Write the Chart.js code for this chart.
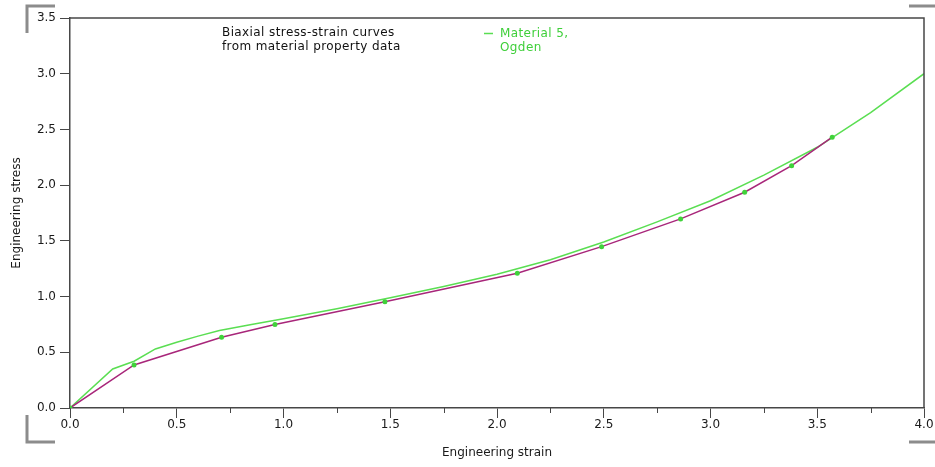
<!DOCTYPE html>
<html>
<head>
<meta charset="utf-8">
<title>Biaxial stress-strain curves</title>
<script src="https://cdn.jsdelivr.net/npm/chart.js@4/dist/chart.umd.min.js"></script>
<style>
  html, body { margin: 0; padding: 0; background: #fff; }
  #wrap { width: 935px; height: 467px; position: relative; }
</style>
</head>
<body>
<div id="wrap"><canvas id="stressChart" width="935" height="467"></canvas></div>
<script>
// measured material property data (biaxial test)
const testStrain = [0, 0.30, 0.71, 0.96, 1.475, 2.095, 2.49, 2.86, 3.16, 3.38, 3.57];
const testStress = [0, 0.386, 0.635, 0.75, 0.954, 1.209, 1.448, 1.697, 1.936, 2.175, 2.43];

// Ogden fit for material 5
const ogdenStrain = [0, 0.2, 0.3, 0.4, 0.5, 0.6, 0.7, 0.85, 1.0, 1.25, 1.5, 1.75, 2.0, 2.25, 2.5, 2.75, 3.0, 3.25, 3.5, 3.75, 4.0];
const ogdenStress = [0, 0.35, 0.42, 0.53, 0.59, 0.645, 0.695, 0.75, 0.80, 0.89, 0.99, 1.09, 1.20, 1.33, 1.49, 1.67, 1.86, 2.09, 2.34, 2.65, 3.0];

const xTicks = [0, 0.5, 1.0, 1.5, 2.0, 2.5, 3.0, 3.5, 4.0];
const xMinorTicks = [0.25, 0.75, 1.25, 1.75, 2.25, 2.75, 3.25, 3.75];
const yTicks = [0, 0.5, 1.0, 1.5, 2.0, 2.5, 3.0, 3.5];

const noteLines = ['Biaxial stress-strain curves', 'from material property data'];
const legendLines = ['Material 5,', 'Ogden'];

const AXIS = '#474747';
const GREEN = '#5ade52';
const MAGENTA = '#a8267a';
const FONT = '"DejaVu Sans", sans-serif';

const toPoints = (xs, ys) => xs.map((x, i) => ({ x: x, y: ys[i] }));

const decorations = {
  id: 'decorations',
  afterDraw(chart) {
    const { ctx, chartArea: a, scales } = chart;
    ctx.save();

    // top and right edges of the frame
    ctx.strokeStyle = AXIS;
    ctx.lineWidth = 1.5;
    ctx.beginPath();
    ctx.moveTo(a.left, a.top);
    ctx.lineTo(a.right, a.top);
    ctx.lineTo(a.right, a.bottom);
    ctx.stroke();

    // short minor ticks on the strain axis
    ctx.lineWidth = 1;
    ctx.beginPath();
    xMinorTicks.forEach(v => {
      const px = Math.round(scales.x.getPixelForValue(v)) + 0.5;
      ctx.moveTo(px, a.bottom);
      ctx.lineTo(px, a.bottom + 5);
    });
    ctx.stroke();

    // grey corner brackets
    ctx.strokeStyle = '#8c8c8c';
    ctx.lineWidth = 3;
    ctx.beginPath();
    ctx.moveTo(27, 33); ctx.lineTo(27, 6); ctx.lineTo(55, 6);
    ctx.moveTo(27, 415); ctx.lineTo(27, 442); ctx.lineTo(55, 442);
    ctx.moveTo(909, 6); ctx.lineTo(935, 6);
    ctx.moveTo(909, 442); ctx.lineTo(935, 442);
    ctx.stroke();

    // note text
    ctx.font = '12px ' + FONT;
    ctx.letterSpacing = '0.4px';
    ctx.textBaseline = 'middle';
    ctx.textAlign = 'left';
    ctx.fillStyle = '#111';
    noteLines.forEach((t, i) => ctx.fillText(t, 222, 33 + i * 14));

    // legend for the fitted curve
    ctx.strokeStyle = GREEN;
    ctx.lineWidth = 1.5;
    ctx.beginPath();
    ctx.moveTo(484, 33.5);
    ctx.lineTo(493, 33.5);
    ctx.stroke();
    ctx.fillStyle = '#3fcf3a';
    legendLines.forEach((t, i) => ctx.fillText(t, 500, 34 + i * 14));

    ctx.restore();
  }
};

new Chart(document.getElementById('stressChart'), {
  type: 'scatter',
  data: {
    datasets: [
      {
        label: 'Material property data',
        data: toPoints(testStrain, testStress),
        showLine: true,
        borderColor: MAGENTA,
        borderWidth: 1.5,
        pointRadius: 2.5,
        pointBackgroundColor: '#3fd23a',
        pointBorderColor: '#3fd23a',
        pointBorderWidth: 0,
        tension: 0,
        order: 0
      },
      {
        label: 'Material 5, Ogden',
        data: toPoints(ogdenStrain, ogdenStress),
        showLine: true,
        borderColor: GREEN,
        borderWidth: 1.5,
        pointRadius: 0,
        tension: 0,
        order: 1
      }
    ]
  },
  options: {
    responsive: false,
    animation: false,
    layout: { padding: { left: 0, top: 18, right: 11, bottom: 0 } },
    plugins: {
      legend: { display: false },
      tooltip: { enabled: false }
    },
    scales: {
      x: {
        type: 'linear',
        min: 0,
        max: 4,
        afterBuildTicks: s => { s.ticks = xTicks.map(v => ({ value: v })); },
        afterFit: s => { s.height = 59; },
        ticks: {
          color: '#1a1a1a',
          font: { family: FONT, size: 12 },
          padding: 0,
          maxRotation: 0,
          callback: v => v.toFixed(1)
        },
        grid: {
          drawOnChartArea: false,
          drawTicks: true,
          tickLength: 10,
          tickColor: AXIS,
          tickWidth: 1
        },
        border: { display: true, color: AXIS, width: 1.5 },
        title: {
          display: true,
          text: 'Engineering strain',
          color: '#1a1a1a',
          font: { family: FONT, size: 12 },
          padding: { top: 0, bottom: 7 }
        }
      },
      y: {
        type: 'linear',
        min: 0,
        max: 3.5,
        afterBuildTicks: s => { s.ticks = yTicks.map(v => ({ value: v })); },
        afterFit: s => { s.width = 70; },
        ticks: {
          color: '#1a1a1a',
          font: { family: FONT, size: 12 },
          padding: 4,
          callback: v => v.toFixed(1)
        },
        grid: {
          drawOnChartArea: false,
          drawTicks: true,
          tickLength: 10,
          tickColor: AXIS,
          tickWidth: 1
        },
        border: { display: true, color: AXIS, width: 1.5 },
        title: {
          display: true,
          text: 'Engineering stress',
          color: '#1a1a1a',
          font: { family: FONT, size: 12 },
          padding: { top: 10, bottom: 0 }
        }
      }
    }
  },
  plugins: [decorations]
});
</script>
</body>
</html>
